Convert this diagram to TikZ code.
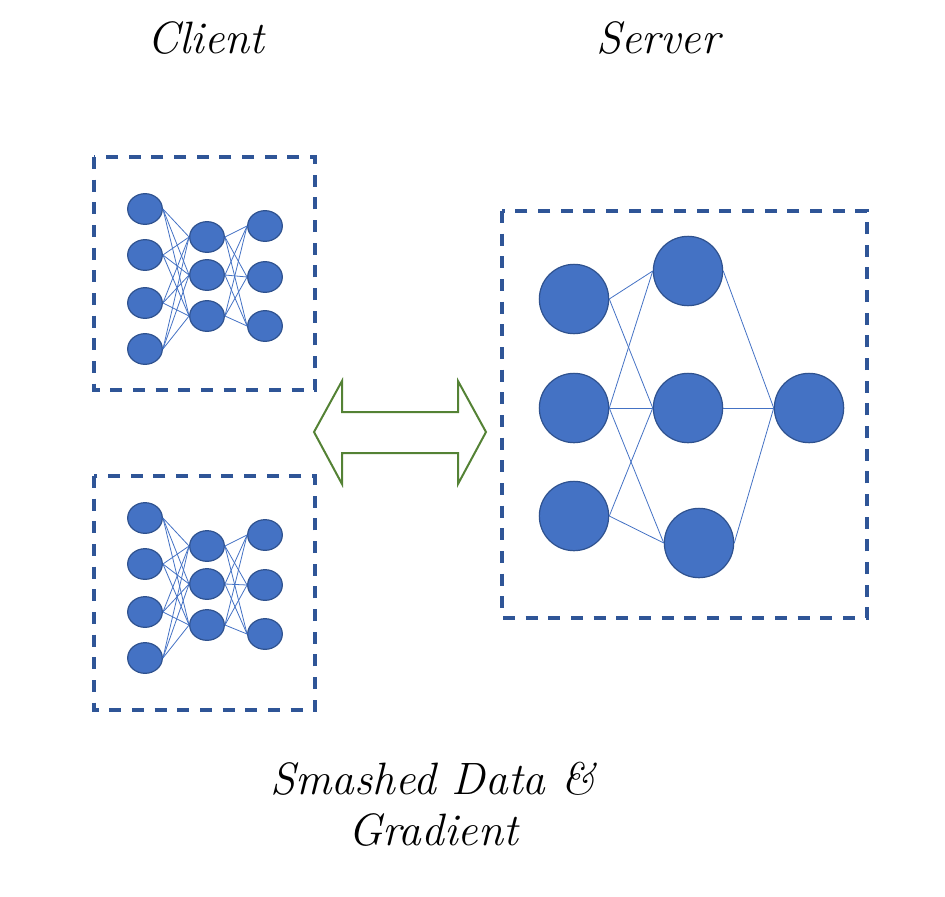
\documentclass[tikz,border=0pt]{standalone}
\usetikzlibrary{shapes.geometric,positioning}
\definecolor{nodeblue}{HTML}{4472C4}
\definecolor{nodeline}{HTML}{2F528F}
\definecolor{boxblue}{HTML}{2F5597}
\definecolor{arrowgreen}{HTML}{548235}

\begin{document}
\begin{tikzpicture}[x=0.75pt,y=-0.75pt,
    small/.style={ellipse,draw=nodeline,fill=nodeblue,line width=0.9pt,
      minimum width=26pt,minimum height=23pt,inner sep=0pt},
    big/.style={circle,draw=nodeline,fill=nodeblue,line width=0.9pt,
      minimum size=52pt,inner sep=0pt},
    link/.style={nodeblue,line width=0.6pt},
    partbox/.style={draw=boxblue,line width=2.6pt,dash pattern=on 9pt off 8pt},
    caption/.style={font=\fontsize{34}{38}\selectfont\itshape}]
      \useasboundingbox (0,0) rectangle (945,896);

      % titles
      \node[caption] (client) at (206,38) {Client};
      \node[caption] (server) at (658,38) {Server};
      \node[caption,align=center] (msg) at (433,804) {Smashed Data \&\\Gradient};

      % dashed frames
      \draw[partbox] (94,157) rectangle (315,390);
      \draw[partbox] (94,476) rectangle (315,710);
      \draw[partbox] (502,211) rectangle (867,618);

      % top client
      \node[small] (tin1) at (145,209) {};
      \node[small] (tin2) at (145,255) {};
      \node[small] (tin3) at (145,303) {};
      \node[small] (tin4) at (145,349) {};
      \node[small] (thid1) at (207,237) {};
      \node[small] (thid2) at (207,275) {};
      \node[small] (thid3) at (207,316) {};
      \node[small] (tout1) at (265,226) {};
      \node[small] (tout2) at (265,277) {};
      \node[small] (tout3) at (265,326) {};

      % bottom client
      \node[small] (bin1) at (145,518) {};
      \node[small] (bin2) at (145,564) {};
      \node[small] (bin3) at (145,612) {};
      \node[small] (bin4) at (145,658) {};
      \node[small] (bhid1) at (207,546) {};
      \node[small] (bhid2) at (207,584) {};
      \node[small] (bhid3) at (207,625) {};
      \node[small] (bout1) at (265,535) {};
      \node[small] (bout2) at (265,585) {};
      \node[small] (bout3) at (265,634) {};

      \foreach \s in {t,b}{
        \foreach \i in {1,...,4}
          \foreach \j in {1,2,3}
            \draw[link] (\s in\i.east) -- (\s hid\j.west);
        \foreach \i in {1,2,3}
          \foreach \j in {1,2,3}
            \draw[link] (\s hid\i.east) -- (\s out\j.west);
      }

      % server
      \node[big] (sin1) at (574,299) {};
      \node[big] (sin2) at (574,408) {};
      \node[big] (sin3) at (574,516) {};
      \node[big] (shid1) at (688,271) {};
      \node[big] (shid2) at (688,408) {};
      \node[big] (shid3) at (699,543) {};
      \node[big] (sout) at (809,408) {};

      \draw[link] (sin1.east) -- (shid1.west);
      \draw[link] (sin1.east) -- (shid2.west);
      \draw[link] (sin2.east) -- (shid1.west);
      \draw[link] (sin2.east) -- (shid2.west);
      \draw[link] (sin2.east) -- (shid3.west);
      \draw[link] (sin3.east) -- (shid2.west);
      \draw[link] (sin3.east) -- (shid3.west);
      \draw[link] (shid1.east) -- (sout.west);
      \draw[link] (shid2.east) -- (sout.west);
      \draw[link] (shid3.east) -- (sout.west);

      % exchange arrow
      \draw[arrowgreen,line width=1.5pt,line join=miter]
        (314,432) -- (342,381) -- (342,412) -- (458,412) -- (458,381)
        -- (486,432) -- (458,484) -- (458,453) -- (342,453) -- (342,484) -- cycle;
    \end{tikzpicture}
\end{document}
